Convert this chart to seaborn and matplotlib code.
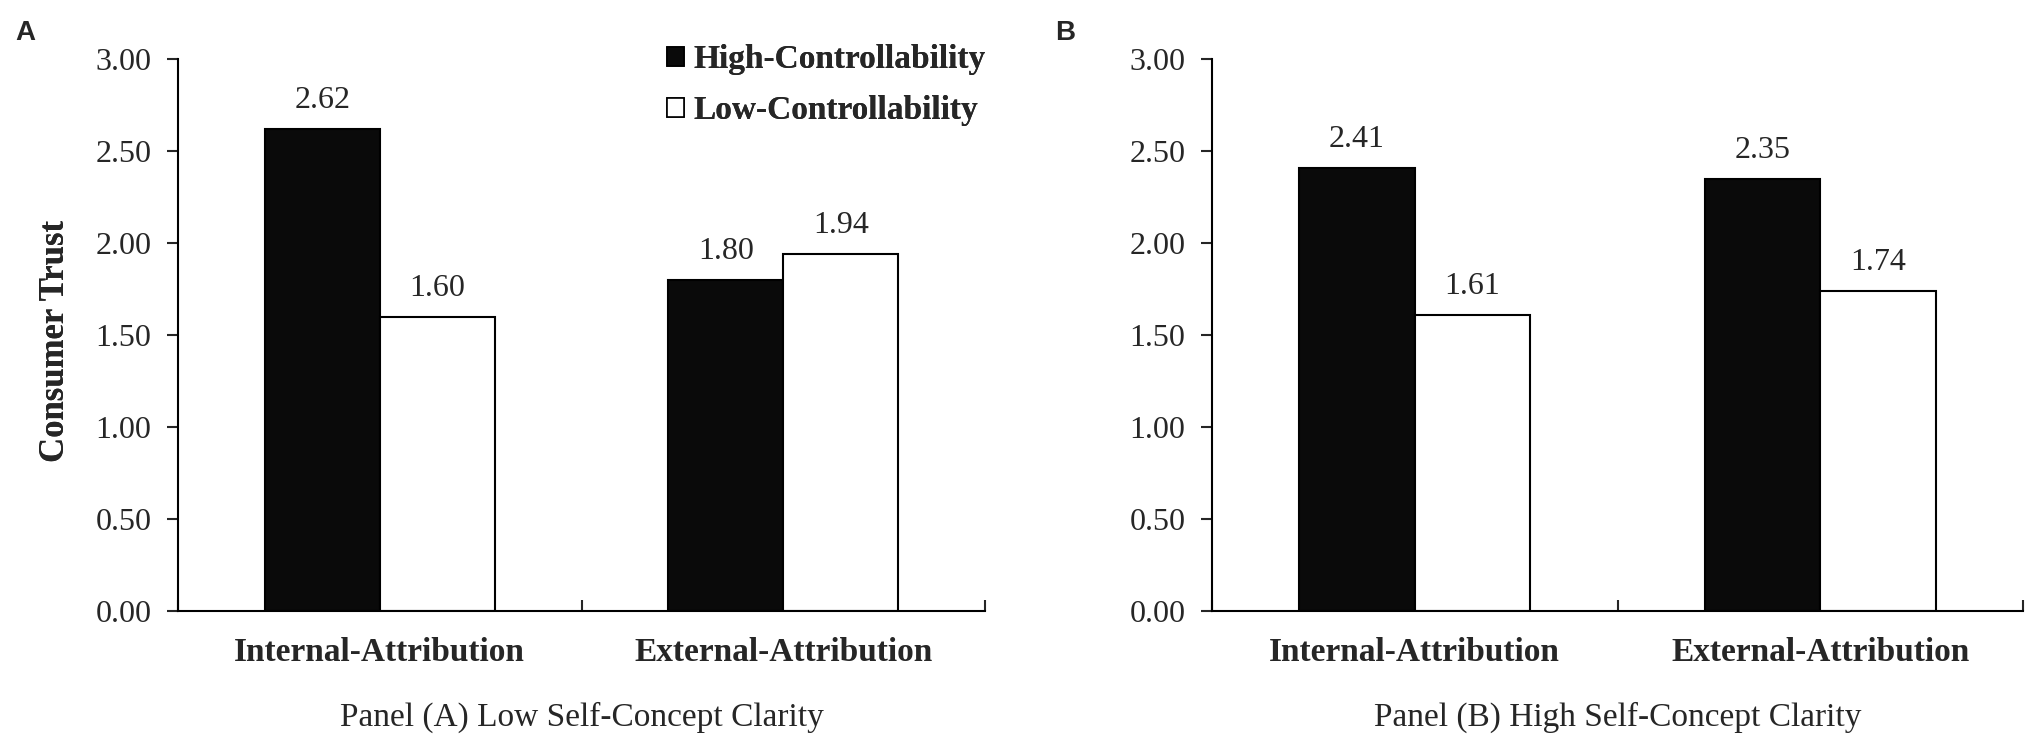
import pandas as pd
import seaborn as sns
import matplotlib.pyplot as plt
from matplotlib.patches import Patch
from matplotlib.ticker import FixedLocator

# === data ===
attributions = ["Internal-Attribution", "External-Attribution"]
conditions = ["High-Controllability", "Low-Controllability"]
panel_a_high = [2.62, 1.80]
panel_a_low = [1.60, 1.94]
panel_b_high = [2.41, 2.35]
panel_b_low = [1.61, 1.74]
panel_titles = ["Panel (A) Low Self-Concept Clarity", "Panel (B) High Self-Concept Clarity"]
panel_letters = ["A", "B"]
y_ticks = [0.0, 0.5, 1.0, 1.5, 2.0, 2.5, 3.0]


def make_frame(high, low):
    rows = []
    for i, att in enumerate(attributions):
        rows.append({"attribution": att, "condition": conditions[0], "trust": high[i]})
        rows.append({"attribution": att, "condition": conditions[1], "trust": low[i]})
    return pd.DataFrame(rows)


frames = [make_frame(panel_a_high, panel_a_low), make_frame(panel_b_high, panel_b_low)]

sns.set_theme(style="white")
plt.rcParams["font.family"] = ["Liberation Serif", "DejaVu Serif"]
plt.rcParams["axes.linewidth"] = 1.5

fig = plt.figure(figsize=(20.33, 7.42), dpi=100)
W, H = 2033, 742
axes_px = [(178, 985), (1212, 2023)]
top_px, bottom_px = 59, 611
letter_px = [15, 1055]

palette = {conditions[0]: "#0a0a0a", conditions[1]: "white"}

for k, df in enumerate(frames):
    x0, x1 = axes_px[k]
    ax = fig.add_axes([x0 / W, 1 - bottom_px / H, (x1 - x0) / W, (bottom_px - top_px) / H])
    sns.barplot(data=df, x="attribution", y="trust", hue="condition", order=attributions,
                hue_order=conditions, palette=palette, edgecolor="black", linewidth=1.5,
                width=0.57, ax=ax, legend=False)

    # value labels above bars
    for cont in ax.containers:
        ax.bar_label(cont, fmt="%.2f", padding=10, fontsize=23)

    ax.set_xlim(-0.5, 1.5)
    ax.set_ylim(0, 3.0)
    ax.set_yticks(y_ticks)
    ax.set_yticklabels([f"{v:.2f}" for v in y_ticks])
    ax.tick_params(axis="y", direction="out", length=8, width=1.5, pad=11, labelsize=23, left=True)
    ax.tick_params(axis="x", which="major", length=0, pad=19, labelsize=24)
    # Excel-style ticks between categories
    ax.xaxis.set_minor_locator(FixedLocator([-0.5, 0.5, 1.5]))
    ax.tick_params(axis="x", which="minor", direction="in", length=8, width=1.5, bottom=True)
    for lab in ax.get_xticklabels():
        lab.set_fontweight("bold")

    sns.despine(ax=ax)
    for side in ["left", "bottom"]:
        ax.spines[side].set_color("black")

    ax.set_ylabel("Consumer Trust", fontsize=25, fontweight="bold")
    ax.yaxis.set_label_coords((72 - x0) / (x1 - x0), (bottom_px - 341) / (bottom_px - top_px))
    ax.set_xlabel(panel_titles[k], fontsize=24)
    ax.xaxis.set_label_coords(0.5, -(702 - bottom_px) / (bottom_px - top_px))

    handles = [Patch(facecolor="#0a0a0a", edgecolor="black", linewidth=1.2),
               Patch(facecolor="white", edgecolor="black", linewidth=1.2)]
    ax.legend(handles, conditions, loc="upper left",
              bbox_to_anchor=((667 - x0) / (x1 - x0), (bottom_px - 44) / (bottom_px - top_px)),
              frameon=False, borderpad=0, borderaxespad=0, handlelength=0.51, handleheight=0.51,
              handletextpad=0.27, labelspacing=0.6, prop={"size": 24, "weight": "bold"})

    fig.text(letter_px[k] / W, 1 - 20 / H, panel_letters[k], ha="left", va="top",
             fontsize=20, fontweight="bold", family=["Liberation Sans", "DejaVu Sans"])

fig.savefig("out.png", dpi=100, facecolor="white")
